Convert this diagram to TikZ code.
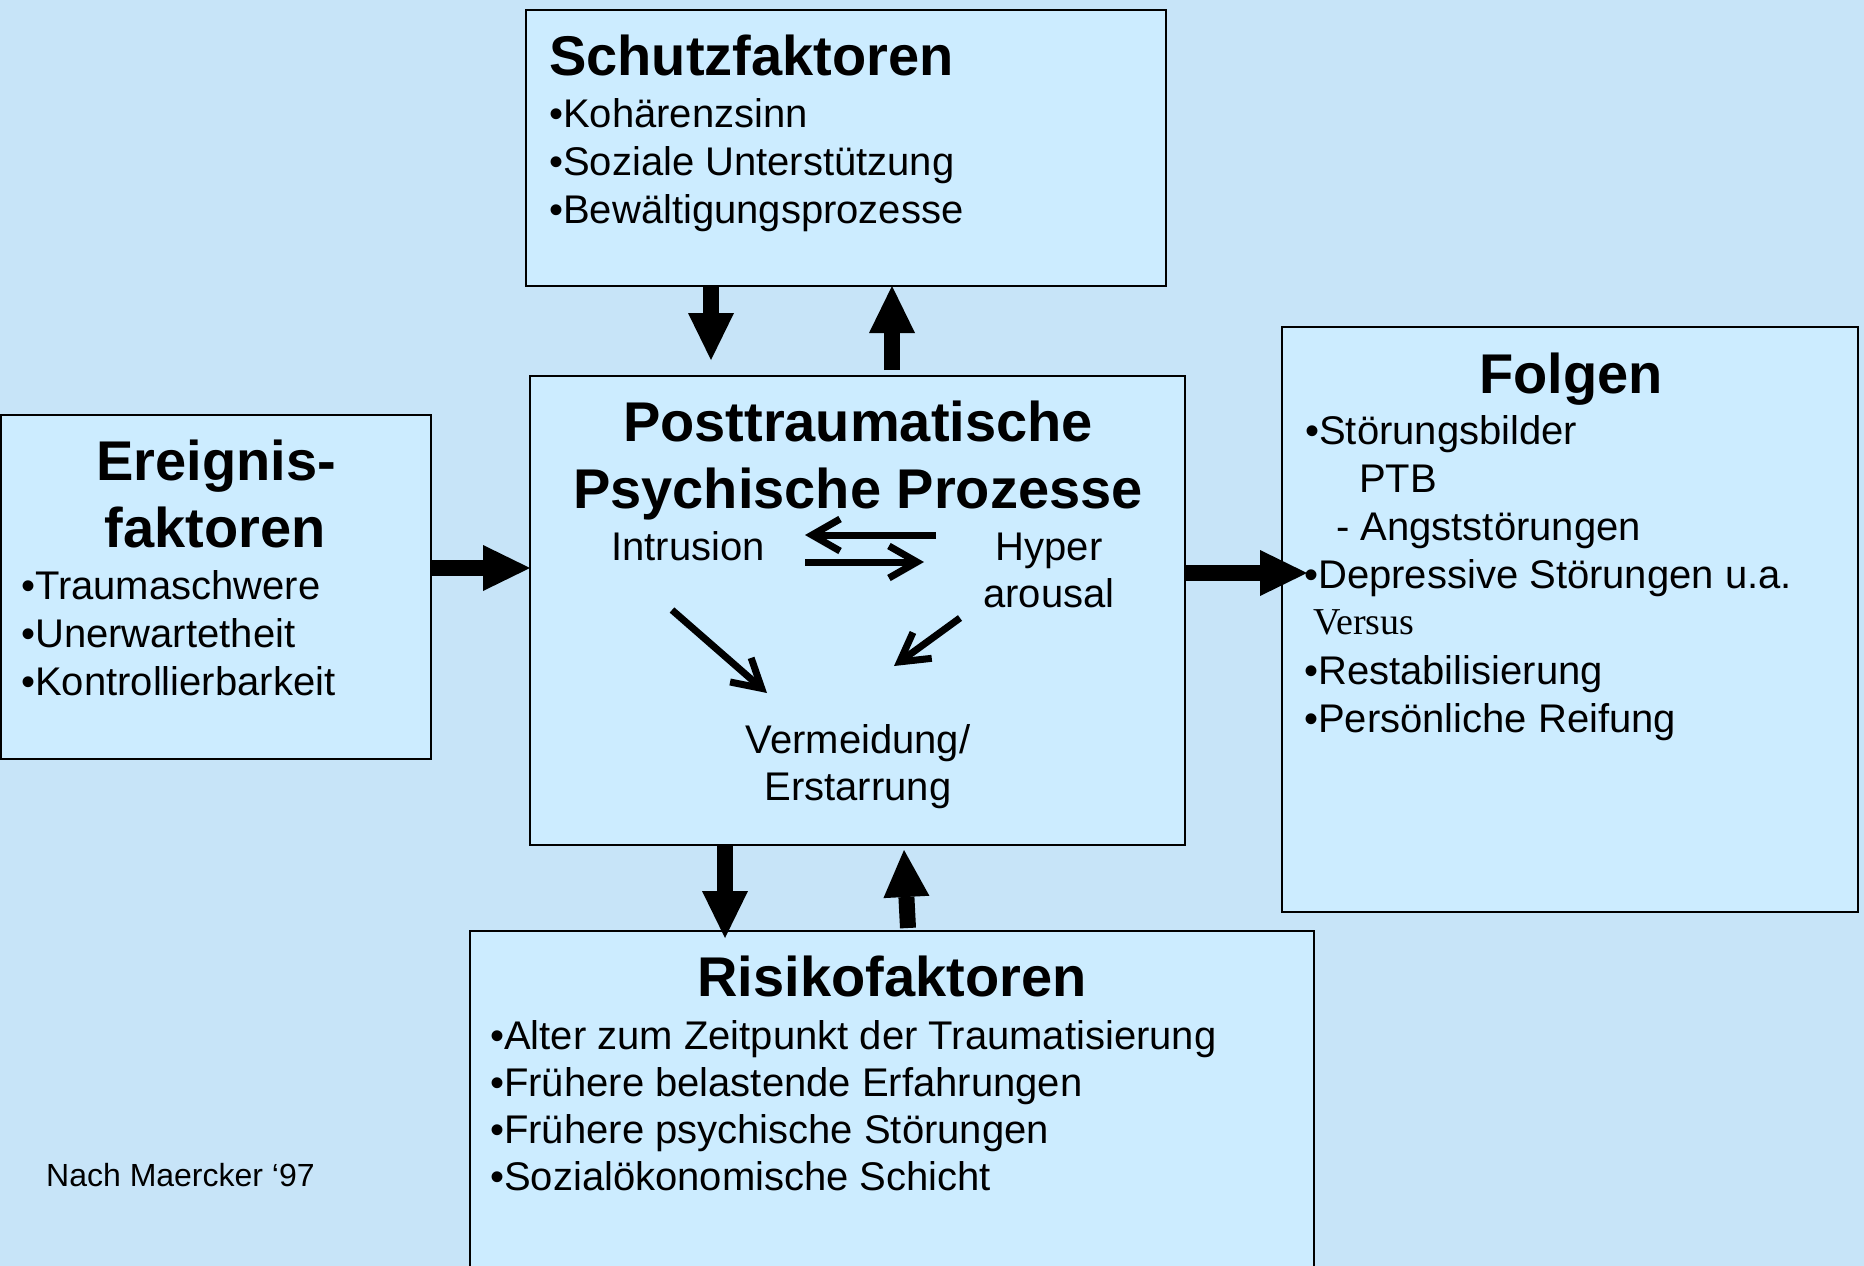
\documentclass[tikz,border=0pt]{standalone}
\usepackage{fontspec}
\setmainfont{Liberation Sans}
\newfontfamily\seriffont{Liberation Serif}
\usetikzlibrary{arrows.meta}
\definecolor{bgblue}{HTML}{C7E4F8}
\definecolor{boxblue}{HTML}{CCECFF}
\begin{document}
\begin{tikzpicture}[x=1pt,y=-1pt,
  box/.style={draw=black, line width=2pt, fill=boxblue, anchor=north west, inner sep=0pt, outer sep=0pt},
  ttl/.style={font=\fontsize{56}{64}\selectfont\bfseries, inner sep=0pt, anchor=base},
  txt/.style={font=\fontsize{40}{48}\selectfont, inner sep=0pt, anchor=base west},
  ctxt/.style={txt, anchor=base},
  fat/.style={line width=16pt, -{Triangle[length=47pt,width=46pt,line width=0pt]}},
  thinarrow/.style={line width=7pt, -{Straight Barb[length=28pt,width=32pt]}}]
\clip (0,0) rectangle (1864,1266);
\fill[bgblue] (0,0) rectangle (1864,1266);

% boxes
\node[box, minimum width=640pt, minimum height=276pt] (schutz) at (526,10) {};
\node[box, minimum width=655pt, minimum height=469pt] (center) at (530,376) {};
\node[box, minimum width=430pt, minimum height=344pt] (ereig) at (1,415) {};
\node[box, minimum width=576pt, minimum height=585pt] (folgen) at (1282,327) {};
\node[box, minimum width=844pt, minimum height=420pt] (risiko) at (470,931) {};

% Schutzfaktoren
\node[ttl, anchor=base west] (st) at (549,75) {Schutzfaktoren};
\node[txt] (sa) at (549,127) {•Kohärenzsinn};
\node[txt] (sb) at (549,175) {•Soziale Unterstützung};
\node[txt] (sc) at (549,223) {•Bewältigungsprozesse};

% Center
\node[ttl] (ct1) at (858,441) {Posttraumatische};
\node[ttl] (ct2) at (858,508) {Psychische Prozesse};
\node[ctxt] (intr) at (688,560) {Intrusion};
\node[ctxt] (hyp1) at (1049,560) {Hyper};
\node[ctxt] (hyp2) at (1049,607) {arousal};
\node[ctxt] (verm1) at (858,753) {Vermeidung/};
\node[ctxt] (verm2) at (858,800) {Erstarrung};

% Ereignisfaktoren
\node[ttl] (et1) at (216,480) {Ereignis-};
\node[ttl] (et2) at (215,547) {faktoren};
\node[txt] (ea) at (21,599) {•Traumaschwere};
\node[txt] (eb) at (21,647) {•Unerwartetheit};
\node[txt] (ec) at (21,695) {•Kontrollierbarkeit};

% Folgen
\node[ttl] (ft) at (1571,393) {Folgen};
\node[txt] (fa) at (1305,444) {•Störungsbilder};
\node[txt] (fb) at (1359,492) {PTB};
\node[txt] (fc) at (1336,540) {- Angststörungen};
\node[txt] (fd) at (1304,588) {•Depressive Störungen u.a.};
\node[txt, font=\seriffont\fontsize{38}{46}\selectfont] (fe) at (1313,634) {Versus};
\node[txt] (ff) at (1304,684) {•Restabilisierung};
\node[txt] (fg) at (1304,732) {•Persönliche Reifung};

% Risikofaktoren
\node[ttl] (rt) at (892,996) {Risikofaktoren};
\node[txt] (ra) at (490,1049) {•Alter zum Zeitpunkt der Traumatisierung};
\node[txt] (rb) at (490,1096) {•Frühere belastende Erfahrungen};
\node[txt] (rc) at (490,1143) {•Frühere psychische Störungen};
\node[txt] (rd) at (490,1190) {•Sozialökonomische Schicht};

\node[txt, font=\fontsize{32}{38}\selectfont] (note) at (46,1186) {Nach Maercker ‘97};

% fat arrows
\coordinate (t1) at (711,360);
\draw[fat] (schutz.south -| t1) -- (t1);
\coordinate (s2) at (892,370);
\draw[fat] (s2) -- (schutz.south -| s2);
\coordinate (y3) at (0,568);
\draw[fat] (ereig.east |- y3) -- (center.west |- y3);
\coordinate (t4) at (1307,573);
\draw[fat] (center.east |- t4) -- (t4);
\coordinate (t5) at (725,938);
\draw[fat] (center.south -| t5) -- (t5);
\coordinate (s6) at (908,928);
\coordinate (t6) at (904,850);
\draw[fat] (s6) -- (t6);

% inner arrows
\coordinate (ia1) at (936,535); \coordinate (ib1) at (805,535);
\coordinate (ia2) at (805,562); \coordinate (ib2) at (924,562);
\coordinate (ia3) at (672,610); \coordinate (ib3) at (767,693);
\coordinate (ia4) at (960,618); \coordinate (ib4) at (894,666);
\draw[thinarrow] (ia1) -- (ib1);
\draw[thinarrow] (ia2) -- (ib2);
\draw[thinarrow] (ia3) -- (ib3);
\draw[thinarrow] (ia4) -- (ib4);
\end{tikzpicture}
\end{document}
